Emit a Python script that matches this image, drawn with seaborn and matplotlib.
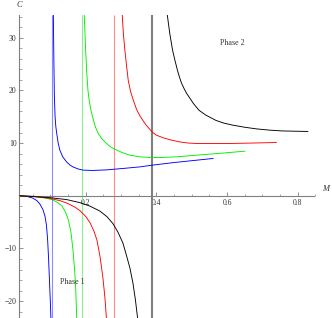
import matplotlib
matplotlib.use("Agg")
import matplotlib.pyplot as plt
import seaborn as sns
import numpy as np
from matplotlib.ticker import FixedLocator, MultipleLocator

# critical masses (vertical lines)
m_crit = [0.106, 0.189, 0.280, 0.389]
colors = ['#0000ff', '#00f000', '#ff0000', '#000000']
line_colors = ['#8c8cff', '#8cf08c', '#ff8c8c', '#7f7f7f']

# phase 1 branches (C < 0)
blue_lo_m = [0.0141, 0.0368, 0.0509, 0.0622, 0.0707, 0.0792, 0.0849, 0.0891, 0.0925, 0.0953, 0.0976, 0.0999, 0.1018]
blue_lo_c = [0.0, -0.17, -0.46, -0.93, -1.59, -2.64, -3.87, -5.58, -8.43, -12.2, -16.0, -19.8, -23.3]
green_lo_m = [0.0141, 0.0566, 0.0849, 0.1047, 0.1216, 0.133, 0.1429, 0.1513, 0.1584, 0.1641, 0.1689, 0.172, 0.1748]
green_lo_c = [0.0, -0.17, -0.42, -0.74, -1.31, -1.97, -3.11, -4.63, -6.91, -10.3, -14.1, -17.9, -23.3]
red_lo_m = [0.0141, 0.0566, 0.099, 0.1273, 0.1471, 0.1697, 0.1839, 0.2008, 0.2122, 0.2235, 0.232, 0.2405, 0.2489, 0.2546, 0.2588]
red_lo_c = [0.0, -0.13, -0.51, -0.93, -1.40, -2.16, -2.83, -3.97, -5.10, -6.72, -8.43, -11.46, -15.6, -19.4, -23.3]
black_lo_m = [0.0141, 0.099, 0.1471, 0.1839, 0.2122, 0.2405, 0.2603, 0.2772, 0.2914, 0.3055, 0.3168, 0.3253, 0.3338, 0.3409, 0.3471]
black_lo_c = [0.0, -0.36, -0.74, -1.31, -1.97, -2.92, -3.97, -5.29, -6.91, -8.99, -11.65, -13.74, -16.58, -19.81, -23.3]

# phase 2 branches (C > 0)
blue_hi_m = [0.1086, 0.1100, 0.1115, 0.1135, 0.1155, 0.118, 0.122, 0.127, 0.135, 0.146, 0.155, 0.164, 0.178,
             0.193, 0.221, 0.259, 0.306, 0.354, 0.388, 0.45, 0.50, 0.561]
blue_hi_c = [34.3, 26.0, 19.0, 15.0, 13.2, 11.9, 10.1, 8.65, 7.4, 6.43, 5.85, 5.48, 5.1,
             4.86, 4.8, 4.91, 5.18, 5.48, 5.8, 6.3, 6.65, 7.08]
green_hi_m = [0.196, 0.198, 0.200, 0.203, 0.2065, 0.210, 0.215, 0.2215, 0.228, 0.2356, 0.246, 0.259, 0.272,
              0.288, 0.305, 0.325, 0.354, 0.385, 0.4195, 0.46, 0.514, 0.58, 0.651]
green_hi_c = [34.3, 31.0, 27.6, 23.5, 20.0, 18.1, 16.2, 14.5, 13.0, 11.8, 10.8, 9.92, 9.2,
              8.65, 8.15, 7.70, 7.38, 7.25, 7.27, 7.4, 7.70, 8.05, 8.46]
red_hi_m = [0.3035, 0.307, 0.311, 0.316, 0.3205, 0.327, 0.335, 0.344, 0.354, 0.37, 0.388, 0.40, 0.4195,
            0.44, 0.467, 0.49, 0.514, 0.56, 0.608, 0.67, 0.740]
red_hi_c = [34.3, 30.5, 27.6, 24.5, 21.9, 19.8, 18.1, 16.4, 15.1, 13.5, 12.1, 11.5, 11.0,
            10.6, 10.2, 10.0, 9.92, 9.9, 9.92, 10.0, 10.1]
black_hi_m = [0.431, 0.438, 0.446, 0.4526, 0.459, 0.465, 0.471, 0.478, 0.485, 0.493, 0.505, 0.521, 0.54,
              0.5686, 0.59, 0.616, 0.65, 0.682, 0.72, 0.757, 0.79, 0.829]
black_hi_c = [34.3, 30.8, 27.6, 25.7, 24.0, 22.6, 21.4, 20.4, 19.5, 18.7, 17.5, 16.2, 15.3,
              14.3, 13.8, 13.4, 13.0, 12.7, 12.45, 12.3, 12.25, 12.2]

x_major = [0.2, 0.4, 0.6, 0.8]
y_major = [-20, -10, 10, 20, 30]

lower = [(blue_lo_m, blue_lo_c), (green_lo_m, green_lo_c), (red_lo_m, red_lo_c), (black_lo_m, black_lo_c)]
upper = [(blue_hi_m, blue_hi_c), (green_hi_m, green_hi_c), (red_hi_m, red_hi_c), (black_hi_m, black_hi_c)]

sns.set_style("white")
plt.rcParams['font.family'] = ['Liberation Serif', 'DejaVu Serif']

fig = plt.figure(figsize=(3.32, 3.18), dpi=100)
ax = fig.add_axes([19.2 / 332, 0.0, 306.8 / 332, 303 / 318])

xmin, xmax = 0.012, 0.88
ymin, ymax = -23.2, 34.3

for mc, lc in zip(m_crit, line_colors):
    lw = 1.5 if lc == '#7f7f7f' else 0.8
    ax.vlines(mc, ymin, ymax, color=lc, lw=lw, zorder=1)

for (m, c), col in zip(lower + upper, colors + colors):
    sns.lineplot(x=m, y=c, color=col, lw=0.65, ax=ax, estimator=None, sort=False, zorder=3)

ax.set_xlim(xmin, xmax)
ax.set_ylim(ymin, ymax)

# Mathematica-style axes crossing at the origin
for s in ['top', 'right']:
    ax.spines[s].set_visible(False)
ax.spines['bottom'].set_position(('data', 0))
ax.spines['bottom'].set_bounds(xmin, 0.846)
ax.spines['left'].set_bounds(ymin, ymax)
for s in ['left', 'bottom']:
    ax.spines[s].set_color('#808080')
    ax.spines[s].set_linewidth(0.8)

ax.xaxis.set_major_locator(FixedLocator(x_major))
ax.xaxis.set_minor_locator(MultipleLocator(0.05))
ax.yaxis.set_major_locator(FixedLocator(y_major))
ax.yaxis.set_minor_locator(MultipleLocator(2))
ax.set_xticklabels([f"{v:.1f}" for v in x_major])
ax.set_yticklabels([f"\u2212{-v}" if v < 0 else str(v) for v in y_major])
ax.tick_params(which='major', direction='in', length=3, width=0.6, color='#808080',
               labelsize=5.5, labelcolor='#333333', pad=2)
ax.tick_params(which='minor', direction='in', length=1.8, width=0.5, color='#808080')
ax.tick_params(axis='both', which='both', bottom=True, left=True)
ax.set_xlabel('')
ax.set_ylabel('')

ax.annotate('C', xy=(0, 1), xycoords='axes fraction', xytext=(0, 4), textcoords='offset points',
            ha='center', va='bottom', fontsize=6, style='italic', color='#333333')
ax.annotate('M', xy=(0.846, 0), xycoords='data', xytext=(6, 2), textcoords='offset points',
            ha='left', va='bottom', fontsize=6, style='italic', color='#333333', annotation_clip=False)

ax.text(0.614, 29.0, 'Phase 2', fontsize=5.8, ha='center', va='center', color='#333333')
ax.text(0.161, -16.4, 'Phase 1', fontsize=5.8, ha='center', va='center', color='#333333')

fig.savefig('out.png', dpi=100)
